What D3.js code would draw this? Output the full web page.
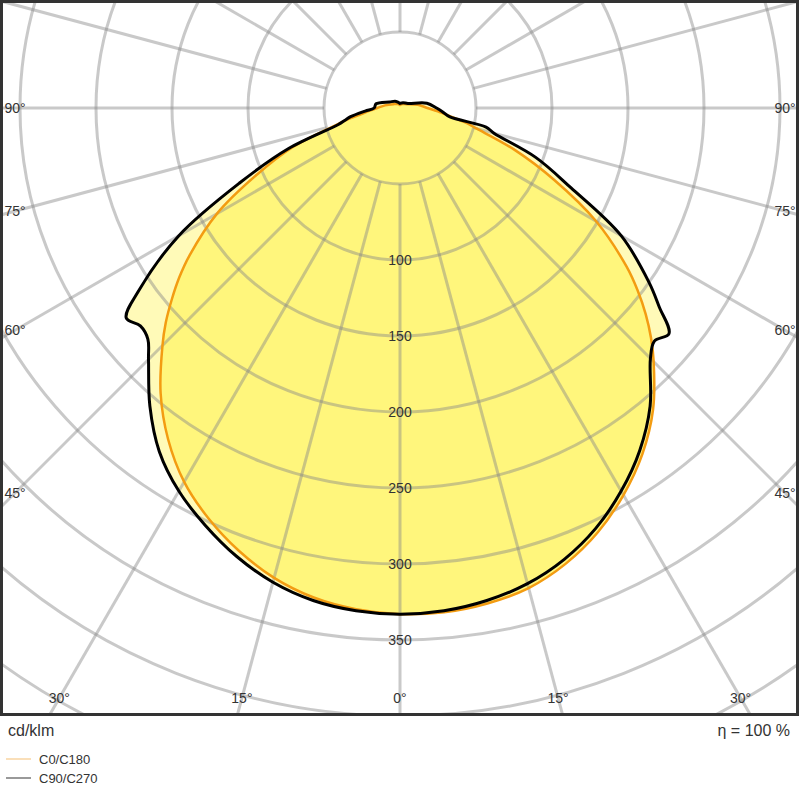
<!DOCTYPE html>
<html>
<head>
<meta charset="utf-8">
<script src="https://cdn.jsdelivr.net/npm/d3@7"></script>
<style>
  body { margin: 0; background: #fff; }
  text { font-family: "Liberation Sans", Arial, sans-serif; fill: #333; }
</style>
</head>
<body>
<div id="wrapper"></div>
<script>
// gamma angles (degrees from nadir)
const angles = [0, 5, 10, 15, 20, 25, 30, 35, 40, 45, 47.5, 50, 52.5, 55, 60, 65, 70, 75, 77.5, 80, 85, 90, 100, 120, 150, 180]
// C0/C180 (orange)
const c0Right = [334, 333, 331, 327, 319, 308, 294, 278, 259, 236, 224, 211, 197, 182, 149, 112, 80, 52, 44, 35, 25, 18, 12, 5, 3, 2]
const c0Left  = [333, 331, 327, 320, 310, 298, 284, 266, 245, 221, 209, 196, 183, 169, 139, 104, 75, 44, 36, 28, 20, 15, 10, 5, 3, 2]
// C90/C270 (black)
const c90Right = [333, 332, 329, 324, 316, 305, 291, 275, 256, 233, 227, 231, 215, 200, 168, 124, 95, 64, 58, 33, 28, 24, 18, 6, 4, 3]
const c90Left  = [333, 332, 329, 323, 314, 303, 291, 276, 256, 234, 225, 223, 227, 210, 168, 116, 78, 42, 37, 33, 23, 17, 16, 8, 5, 3]

const ringValues = [50, 100, 150, 200, 250, 300, 350, 400, 450, 500]
const ringLabels = [100, 150, 200, 250, 300, 350]
const bottomLabels = [-30, -15, 0, 15, 30]
const sideLabels = [45, 60, 75, 90]

const width = 800, height = 800
const box = { x: 1.5, y: 1.5, w: 796, h: 713 }
const cx = 400, cy = 108

const svg = d3.select("#wrapper").append("svg")
  .attr("width", width).attr("height", height)

const r = d3.scaleLinear().domain([0, 50]).range([0, 76])

svg.append("clipPath").attr("id", "clip")
  .append("rect").attr("x", box.x).attr("y", box.y).attr("width", box.w).attr("height", box.h)

const plot = svg.append("g").attr("clip-path", "url(#clip)")
const center = plot.append("g").attr("transform", `translate(${cx},${cy})`)

const toRad = d => d * Math.PI / 180
// closed outline: left side from 180 down to 0, then right side 0..180
const outline = (left, right) => {
  const pts = []
  for (let i = angles.length - 1; i >= 0; i--) pts.push([Math.PI + toRad(angles[i]), left[i]])
  for (let i = 1; i < angles.length; i++) pts.push([Math.PI - toRad(angles[i]), right[i]])
  return pts
}
const line = d3.lineRadial()
  .angle(d => d[0])
  .radius(d => r(d[1]))
  .curve(d3.curveCatmullRomClosed.alpha(0.5))

const blackPts = outline(c90Left, c90Right)
const orangePts = outline(c0Left, c0Right)

center.append("path").attr("d", line(blackPts)).attr("fill", "#fffab8")
center.append("path").attr("d", line(orangePts)).attr("fill", "#fff67c")

// grid
const grid = center.append("g").attr("stroke", "#888").attr("stroke-opacity", 0.45)
  .attr("stroke-width", 3).attr("fill", "none")
ringValues.forEach(v => grid.append("circle").attr("r", r(v)))
d3.range(0, 360, 15).forEach(a => {
  grid.append("line")
    .attr("x1", Math.sin(toRad(a)) * r(50))
    .attr("y1", Math.cos(toRad(a)) * r(50))
    .attr("x2", Math.sin(toRad(a)) * r(600))
    .attr("y2", Math.cos(toRad(a)) * r(600))
})

center.append("path").attr("d", line(orangePts))
  .attr("fill", "none").attr("stroke", "#f39c12").attr("stroke-width", 2.5)
center.append("path").attr("d", line(blackPts))
  .attr("fill", "none").attr("stroke", "#000").attr("stroke-width", 3).attr("stroke-linejoin", "round")

// ring labels
ringLabels.forEach(v => {
  center.append("text").attr("x", 0).attr("y", r(v) + 5)
    .attr("text-anchor", "middle").attr("font-size", 14).text(v)
})

// angle labels
const bottomY = 698
bottomLabels.forEach(a => {
  const x = cx + Math.tan(toRad(a)) * (bottomY - cy)
  plot.append("text").attr("x", x).attr("y", bottomY + 5)
    .attr("text-anchor", "middle").attr("font-size", 14).text(Math.abs(a) + "°")
})
sideLabels.forEach(a => {
  const y = cy + 385 / Math.tan(toRad(a))
  plot.append("text").attr("x", 15).attr("y", y + 5)
    .attr("text-anchor", "middle").attr("font-size", 14).text(a + "°")
  plot.append("text").attr("x", 785).attr("y", y + 5)
    .attr("text-anchor", "middle").attr("font-size", 14).text(a + "°")
})

svg.append("rect").attr("x", box.x).attr("y", box.y).attr("width", box.w).attr("height", box.h)
  .attr("fill", "none").attr("stroke", "#333").attr("stroke-width", 3)

svg.append("text").attr("x", 8).attr("y", 736).attr("font-size", 16).text("cd/klm")
svg.append("text").attr("x", 790).attr("y", 736).attr("text-anchor", "end").attr("font-size", 16).text("η = 100 %")

const legend = svg.append("g")
const series = [["C0/C180", "#f7c98a"], ["C90/C270", "#555"]]
series.forEach((s, i) => {
  const y = 759 + i * 19
  legend.append("line").attr("x1", 6).attr("x2", 31).attr("y1", y).attr("y2", y)
    .attr("stroke", s[1]).attr("stroke-width", 1.2)
  legend.append("text").attr("x", 39).attr("y", y + 5).attr("font-size", 13).text(s[0])
})
</script>
</body>
</html>
